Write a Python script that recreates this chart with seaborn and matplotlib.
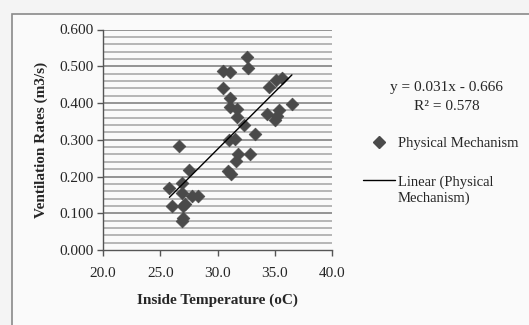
import matplotlib
matplotlib.use("Agg")
import matplotlib.pyplot as plt
from matplotlib.patches import Rectangle
from matplotlib.lines import Line2D
import seaborn as sns
import pandas as pd
import numpy as np

# inside temperature (oC) and ventilation rate (m3/s)
temperature = [32.6, 32.7, 30.5, 31.1, 30.5, 31.1, 31.1, 31.7, 31.7, 34.5,
               35.1, 35.6, 36.5, 34.3, 35.4, 35.0, 35.2, 32.3, 33.3, 31.0,
               31.5, 26.6, 31.8, 32.8, 31.6, 30.9, 31.2, 27.5, 26.9, 25.8,
               26.9, 27.8, 28.3, 26.0, 27.0, 27.2, 27.0, 26.9]
vent_rate = [0.525, 0.496, 0.488, 0.484, 0.440, 0.413, 0.389, 0.383, 0.361, 0.443,
             0.463, 0.467, 0.398, 0.369, 0.381, 0.355, 0.365, 0.341, 0.316, 0.298,
             0.303, 0.282, 0.262, 0.262, 0.241, 0.216, 0.207, 0.219, 0.183, 0.169,
             0.155, 0.148, 0.148, 0.119, 0.121, 0.124, 0.088, 0.080]

df = pd.DataFrame({"temp": temperature, "rate": vent_rate})

sns.set_style("white")
plt.rcParams["font.family"] = ["Liberation Serif", "DejaVu Serif"]

fig = plt.figure(figsize=(5.29, 3.25), dpi=100)
fig.patch.set_facecolor("#f4f4f4")
border = Rectangle((12 / 529, -0.1), 1.2, 1 - 14 / 325 + 0.1,
                   transform=fig.transFigure, facecolor="#fafafa",
                   edgecolor="#8a8a8a", linewidth=1.2, zorder=-5)
fig.patches.append(border)

ax = fig.add_axes([103 / 529, 1 - 250 / 325, 229 / 529, 220.5 / 325])
ax.set_zorder(2)
ax.set_facecolor("#fafafa")

# horizontal gridlines: minor every 0.02, major every 0.1
for v in np.arange(0.02, 0.6001, 0.02):
    major = abs(v * 10 - round(v * 10)) < 1e-6
    ax.axhline(v, color="#8c8c8c" if major else "#b0b0b0",
               linewidth=1.3, zorder=1)

sns.scatterplot(data=df, x="temp", y="rate", marker="D", s=42,
                color="#4a4a4a", edgecolor="#4a4a4a", linewidth=0.5,
                ax=ax, zorder=3)
sns.regplot(data=df, x="temp", y="rate", scatter=False, ci=None,
            line_kws={"color": "black", "linewidth": 1.0, "zorder": 4}, ax=ax)

ax.set_xlim(20, 40)
ax.set_ylim(0, 0.6)
ax.set_xticks(np.arange(20, 40.1, 5))
ax.set_yticks(np.arange(0, 0.601, 0.1))
ax.set_xticklabels([f"{t:.1f}" for t in np.arange(20, 40.1, 5)])
ax.set_yticklabels([f"{t:.3f}" for t in np.arange(0, 0.601, 0.1)])
ax.tick_params(axis="both", direction="out", length=4, width=1,
               color="#555555", labelsize=11, pad=3, bottom=True, left=True)
ax.tick_params(axis="x", pad=8)
for side in ["top", "right"]:
    ax.spines[side].set_visible(False)
for side in ["left", "bottom"]:
    ax.spines[side].set_color("#555555")
    ax.spines[side].set_linewidth(1)

ax.set_xlabel("Inside Temperature (oC)", fontsize=11, fontweight="bold", labelpad=10)
ax.set_ylabel("Ventilation Rates (m3/s)", fontsize=11, fontweight="bold", labelpad=8)

# trendline equation
fig.text(447 / 529, 1 - 87 / 325, "y = 0.031x - 0.666", ha="center", va="center", fontsize=11)
fig.text(447 / 529, 1 - 106 / 325, "R\u00b2 = 0.578", ha="center", va="center", fontsize=11)

# legend
handles = [Line2D([], [], marker="D", linestyle="none", color="#4a4a4a", markersize=6),
           Line2D([], [], color="black", linewidth=1.0)]
fig.legend(handles, ["Physical Mechanism", "Linear (Physical"],
           loc="upper left", bbox_to_anchor=(350 / 529, 1 - 124 / 325),
           frameon=False, fontsize=10.5, handlelength=2.2, handletextpad=0.2,
           labelspacing=1.7)
fig.text(398 / 529, 1 - 198 / 325, "Mechanism)", ha="left", va="center", fontsize=10.5)

fig.savefig("out.png", dpi=100, facecolor=fig.get_facecolor())
